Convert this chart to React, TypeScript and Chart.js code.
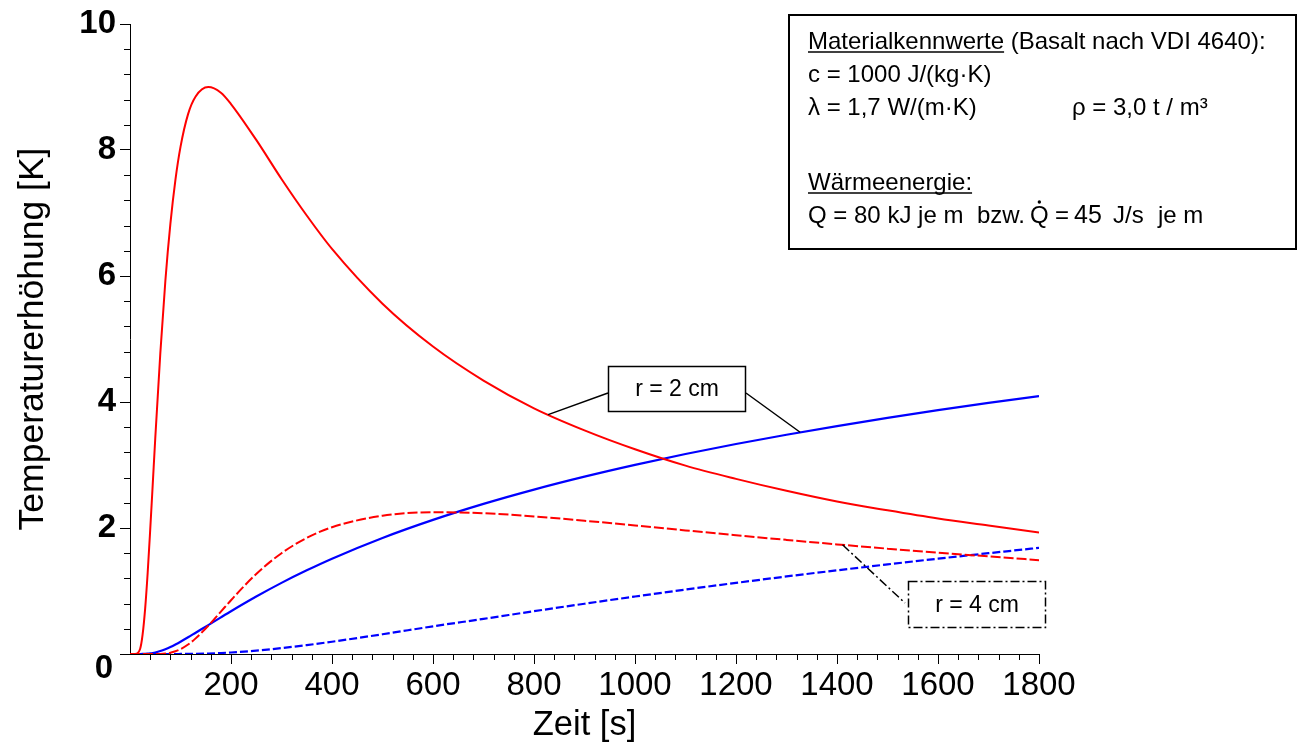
import React, { useEffect, useRef } from "react";
import { Chart, registerables } from "chart.js";

Chart.register(...registerables);

const FONT = '"Liberation Sans", Arial, Helvetica, sans-serif';

// Zeit [s]
const timeS = [0, 10, 20, 25, 30, 35, 40, 45, 50, 60, 70, 80, 90, 100, 115, 130, 155, 180, 200, 250, 300, 350, 400, 500, 600, 700, 800, 900, 1000, 1100, 1200, 1300, 1400, 1500, 1600, 1700, 1800];

// r = 2 cm, Wärmeimpuls (rot, durchgezogen)
const pulse2cm = [0, 0, 0.08, 0.31, 0.72, 1.29, 1.97, 2.69, 3.42, 4.77, 5.92, 6.83, 7.53, 8.05, 8.57, 8.85, 9.0, 8.91, 8.73, 8.16, 7.54, 6.96, 6.43, 5.56, 4.88, 4.34, 3.9, 3.55, 3.25, 2.99, 2.78, 2.59, 2.42, 2.28, 2.15, 2.04, 1.93];
// r = 4 cm, Wärmeimpuls (rot, gestrichelt)
const pulse4cm = [0, 0, 0, 0, 0, 0, 0, 0, 0, 0.002, 0.008, 0.02, 0.043, 0.077, 0.15, 0.248, 0.448, 0.673, 0.854, 1.27, 1.6, 1.843, 2.012, 2.195, 2.249, 2.234, 2.184, 2.115, 2.04, 1.962, 1.885, 1.811, 1.74, 1.672, 1.609, 1.549, 1.49];
// r = 2 cm, Dauerleistung (blau, durchgezogen)
const cont2cm = [0, 0, 0.0001, 0.0006, 0.002, 0.0047, 0.0092, 0.0156, 0.024, 0.0467, 0.0764, 0.1117, 0.1517, 0.195, 0.265, 0.338, 0.459, 0.582, 0.679, 0.912, 1.129, 1.328, 1.513, 1.842, 2.129, 2.383, 2.61, 2.815, 3.002, 3.174, 3.333, 3.48, 3.618, 3.748, 3.87, 3.985, 4.094];
// r = 4 cm, Dauerleistung (blau, gestrichelt)
const cont4cm = [0, 0, 0, 0, 0, 0, 0, 0, 0, 0, 0, 0, 0, 0.0006, 0.0015, 0.0032, 0.0079, 0.0156, 0.024, 0.0535, 0.0934, 0.1413, 0.195, 0.3135, 0.4395, 0.5576, 0.6795, 0.798, 0.9125, 1.023, 1.129, 1.231, 1.328, 1.422, 1.513, 1.6, 1.685];

const xTickStep = 200;
const yTickStep = 2;

// leader line anchors on the curves (data units)
const anchor2Red = { x: 828, y: 3.8 };
const anchor2Blue = { x: 1327, y: 3.52 };
const anchor4Red = { x: 1411, y: 1.733 };

const toPts = (vals: number[]) => timeS.map((t, i) => ({ x: t, y: vals[i] }));

const annotPlugin = {
  id: "annot",
  afterDraw(chart: any) {
    const ctx: CanvasRenderingContext2D = chart.ctx;
    const xs = chart.scales.x;
    const ys = chart.scales.y;
    const ca = chart.chartArea;
    ctx.save();

    // minor ticks
    ctx.strokeStyle = "#000";
    ctx.lineWidth = 1;
    ctx.beginPath();
    for (let k = 1; k < 45; k++) {
      if (k % 5 === 0) continue;
      const px = Math.round(xs.getPixelForValue(k * 40)) + 0.5;
      ctx.moveTo(px, ca.bottom);
      ctx.lineTo(px, ca.bottom + 6);
    }
    for (let k = 1; k < 25; k++) {
      if (k % 5 === 0) continue;
      const py = Math.round(ys.getPixelForValue(k * 0.4)) + 0.5;
      ctx.moveTo(ca.left, py);
      ctx.lineTo(ca.left - 6, py);
    }
    ctx.stroke();

    // origin label "0"
    ctx.fillStyle = "#000";
    ctx.font = `bold 33px ${FONT}`;
    ctx.textAlign = "center";
    ctx.textBaseline = "middle";
    ctx.fillText("0", ca.left - 26, ca.bottom + 15);

    // r = 2 cm label with leader lines
    ctx.lineWidth = 1.5;
    ctx.strokeStyle = "#000";
    ctx.setLineDash([]);
    ctx.beginPath();
    ctx.moveTo(608, 393);
    ctx.lineTo(xs.getPixelForValue(anchor2Red.x), ys.getPixelForValue(anchor2Red.y));
    ctx.moveTo(746, 393);
    ctx.lineTo(xs.getPixelForValue(anchor2Blue.x), ys.getPixelForValue(anchor2Blue.y));
    ctx.stroke();
    ctx.fillStyle = "#fff";
    ctx.fillRect(608, 366, 138, 46);
    ctx.strokeRect(608.5, 366.5, 137, 45);
    ctx.fillStyle = "#000";
    ctx.font = `23px ${FONT}`;
    ctx.textAlign = "center";
    ctx.textBaseline = "middle";
    ctx.fillText("r = 2 cm", 677, 390);

    // r = 4 cm label (dash-dot)
    ctx.setLineDash([9, 3, 2, 3]);
    ctx.beginPath();
    ctx.moveTo(xs.getPixelForValue(anchor4Red.x), ys.getPixelForValue(anchor4Red.y));
    ctx.lineTo(905, 603);
    ctx.stroke();
    ctx.fillStyle = "#fff";
    ctx.fillRect(908, 581, 138, 47);
    ctx.strokeRect(908.5, 581.5, 137, 46);
    ctx.setLineDash([]);
    ctx.fillStyle = "#000";
    ctx.fillText("r = 4 cm", 977, 606);

    // info box
    ctx.fillStyle = "#fff";
    ctx.fillRect(788, 14, 509, 236);
    ctx.lineWidth = 2;
    ctx.strokeRect(789, 15, 507, 234);
    ctx.fillStyle = "#000";
    ctx.font = `24px ${FONT}`;
    ctx.textAlign = "left";
    ctx.textBaseline = "alphabetic";
    const x0 = 808;
    const underline = (x: number, y: number, w: number) => {
      ctx.lineWidth = 1.5;
      ctx.beginPath();
      ctx.moveTo(x, y);
      ctx.lineTo(x + w, y);
      ctx.stroke();
    };
    const w1 = ctx.measureText("Materialkennwerte").width;
    ctx.fillText("Materialkennwerte", x0, 49);
    underline(x0, 52, w1);
    ctx.fillText(" (Basalt nach VDI 4640):", x0 + w1, 49);
    ctx.fillText("c = 1000 J/(kg·K)", x0, 82);
    ctx.fillText("λ = 1,7 W/(m·K)", x0, 115);
    ctx.fillText("ρ = 3,0 t / m³", 1072, 115);
    const w2 = ctx.measureText("Wärmeenergie:").width;
    ctx.fillText("Wärmeenergie:", x0, 190);
    underline(x0, 193, w2);
    ctx.fillText("Q = 80 kJ je m", x0, 223);
    ctx.fillText("bzw.", 977, 223);
    const wQ = ctx.measureText("Q").width;
    ctx.fillText("Q", 1030, 223);
    ctx.beginPath();
    ctx.arc(1030 + wQ / 2, 202, 1.7, 0, Math.PI * 2);
    ctx.fill();
    ctx.fillText("=", 1055, 223);
    ctx.font = `25px ${FONT}`;
    ctx.fillText("45", 1074, 223);
    ctx.font = `24px ${FONT}`;
    ctx.fillText("J/s", 1113, 223);
    ctx.fillText("je m", 1158, 223);

    ctx.restore();
  },
};

export default function App() {
  const canvasRef = useRef<HTMLCanvasElement | null>(null);

  useEffect(() => {
    if (!canvasRef.current) return;
    const chart = new Chart(canvasRef.current, {
      type: "line",
      data: {
        datasets: [
          {
            label: "r = 2 cm Impuls",
            data: toPts(pulse2cm),
            borderColor: "#ff0000",
            borderWidth: 2,
            pointRadius: 0,
            cubicInterpolationMode: "monotone",
          },
          {
            label: "r = 4 cm Impuls",
            data: toPts(pulse4cm),
            borderColor: "#ff0000",
            borderWidth: 2,
            borderDash: [10, 3],
            pointRadius: 0,
            cubicInterpolationMode: "monotone",
          },
          {
            label: "r = 2 cm Dauer",
            data: toPts(cont2cm),
            borderColor: "#0000ff",
            borderWidth: 2.2,
            pointRadius: 0,
            cubicInterpolationMode: "monotone",
          },
          {
            label: "r = 4 cm Dauer",
            data: toPts(cont4cm),
            borderColor: "#0000ff",
            borderWidth: 2.2,
            borderDash: [8, 3],
            pointRadius: 0,
            cubicInterpolationMode: "monotone",
          },
        ],
      },
      options: {
        responsive: false,
        animation: false,
        devicePixelRatio: 1,
        layout: { padding: { left: 0, top: 24, right: 267, bottom: 0 } },
        plugins: { legend: { display: false }, tooltip: { enabled: false } },
        scales: {
          x: {
            type: "linear",
            min: 0,
            max: 1800,
            ticks: {
              stepSize: xTickStep,
              autoSkip: false,
              maxRotation: 0,
              padding: 2,
              color: "#000",
              font: { family: FONT, size: 33 },
              callback: (v: any) => (v === 0 ? "" : String(v)),
            },
            grid: {
              drawOnChartArea: false,
              drawTicks: true,
              tickLength: 10,
              tickColor: (c: any) => (c.tick && c.tick.value === 0 ? "rgba(0,0,0,0)" : "#000"),
              color: "#000",
            },
            border: { display: true, color: "#000", width: 1 },
            title: {
              display: true,
              text: "Zeit [s]",
              color: "#000",
              font: { family: FONT, size: 34.5 },
              padding: { top: 0, bottom: 0 },
            },
            afterFit: (s: any) => {
              s.height = 92;
            },
          },
          y: {
            type: "linear",
            min: 0,
            max: 10,
            ticks: {
              stepSize: yTickStep,
              padding: 4,
              color: "#000",
              font: { family: FONT, size: 33, weight: "bold" },
              callback: (v: any) => (v === 0 ? "" : String(v)),
            },
            grid: {
              drawOnChartArea: false,
              drawTicks: true,
              tickLength: 10,
              tickColor: "#000",
              color: "#000",
            },
            border: { display: true, color: "#000", width: 1 },
            title: {
              display: true,
              text: "Temperaturerhöhung [K]",
              color: "#000",
              font: { family: FONT, size: 35.5 },
              padding: { top: 12, bottom: 0 },
            },
            afterFit: (s: any) => {
              s.width = 130;
            },
          },
        },
      },
      plugins: [annotPlugin],
    } as any);
    return () => chart.destroy();
  }, []);

  return (
    <div style={{ position: "absolute", left: 0, top: 0, width: 1306, height: 746, background: "#fff" }}>
      <canvas ref={canvasRef} width={1306} height={746} style={{ display: "block" }} />
    </div>
  );
}
